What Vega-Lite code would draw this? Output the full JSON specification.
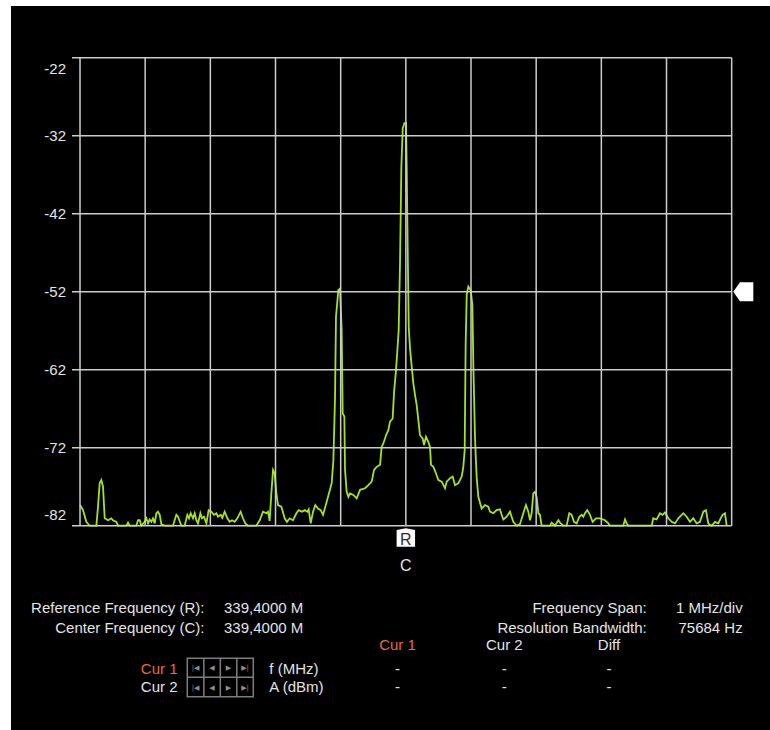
{
  "$schema": "https://vega.github.io/schema/vega-lite/v6.json",
  "width": 759,
  "height": 724,
  "autosize": {"type": "none"},
  "padding": {"left": 11, "top": 6, "right": 0, "bottom": 0},
  "background": "#ffffff",
  "config": {
    "view": {"fill": "#000000", "stroke": null},
    "text": {"font": "Liberation Sans"}
  },
  "datasets": {
    "levels": [{"a": -22}, {"a": -32}, {"a": -42}, {"a": -52}, {"a": -62}, {"a": -72}, {"a": -82}],
    "divisions": [{"f": 334.4}, {"f": 335.4}, {"f": 336.4}, {"f": 337.4}, {"f": 338.4}, {"f": 339.4}, {"f": 340.4}, {"f": 341.4}, {"f": 342.4}, {"f": 343.4}, {"f": 344.4}],
    "reference": [{"label": "R", "f": 339.4}],
    "centre": [{"label": "C", "f": 339.4}],
    "refLevel": [{"a": -52}],
    "spectrum": [
      {"f": 334.400, "a": -79.35}, {"f": 334.446, "a": -80.0}, {"f": 334.497, "a": -81.5}, {"f": 334.548, "a": -82}, {"f": 334.651, "a": -82},
      {"f": 334.676, "a": -79.55}, {"f": 334.702, "a": -76.55}, {"f": 334.727, "a": -76.15}, {"f": 334.753, "a": -77.0}, {"f": 334.779, "a": -81.05},
      {"f": 334.830, "a": -81.3}, {"f": 334.881, "a": -81.05}, {"f": 334.906, "a": -81.3}, {"f": 334.958, "a": -81.5}, {"f": 334.983, "a": -82},
      {"f": 335.111, "a": -82}, {"f": 335.137, "a": -81.6}, {"f": 335.162, "a": -82}, {"f": 335.264, "a": -82}, {"f": 335.290, "a": -81.3},
      {"f": 335.316, "a": -81.3}, {"f": 335.341, "a": -82}, {"f": 335.392, "a": -81.5}, {"f": 335.418, "a": -81.05}, {"f": 335.444, "a": -81.7},
      {"f": 335.469, "a": -81.2}, {"f": 335.495, "a": -81.5}, {"f": 335.520, "a": -81.05}, {"f": 335.546, "a": -81.7}, {"f": 335.572, "a": -80.4},
      {"f": 335.597, "a": -80.2}, {"f": 335.623, "a": -80.6}, {"f": 335.648, "a": -81.8}, {"f": 335.699, "a": -82}, {"f": 335.827, "a": -82},
      {"f": 335.878, "a": -80.6}, {"f": 335.904, "a": -80.85}, {"f": 335.955, "a": -82}, {"f": 336.006, "a": -82}, {"f": 336.047, "a": -80.6},
      {"f": 336.073, "a": -81.05}, {"f": 336.098, "a": -80.4}, {"f": 336.134, "a": -81.05}, {"f": 336.160, "a": -80.4}, {"f": 336.185, "a": -81.3},
      {"f": 336.211, "a": -81.7}, {"f": 336.247, "a": -80.4}, {"f": 336.272, "a": -81.05}, {"f": 336.303, "a": -80.85}, {"f": 336.339, "a": -81.7},
      {"f": 336.374, "a": -80.0}, {"f": 336.415, "a": -80.2}, {"f": 336.456, "a": -80.6}, {"f": 336.492, "a": -80.4}, {"f": 336.518, "a": -80.85},
      {"f": 336.559, "a": -80.6}, {"f": 336.584, "a": -81.0}, {"f": 336.620, "a": -80.2}, {"f": 336.661, "a": -81.05}, {"f": 336.697, "a": -81.5},
      {"f": 336.732, "a": -81.3}, {"f": 336.773, "a": -81.5}, {"f": 336.814, "a": -81.05}, {"f": 336.865, "a": -80.2}, {"f": 336.901, "a": -81.05},
      {"f": 336.937, "a": -81.7}, {"f": 336.978, "a": -82}, {"f": 337.106, "a": -82}, {"f": 337.157, "a": -81.3}, {"f": 337.208, "a": -80.2},
      {"f": 337.259, "a": -80.4}, {"f": 337.285, "a": -80.2}, {"f": 337.310, "a": -81.4}, {"f": 337.336, "a": -77.85}, {"f": 337.362, "a": -74.85},
      {"f": 337.387, "a": -75.3}, {"f": 337.413, "a": -77.85}, {"f": 337.438, "a": -79.35}, {"f": 337.489, "a": -79.55}, {"f": 337.541, "a": -81.05},
      {"f": 337.576, "a": -81.5}, {"f": 337.617, "a": -81.05}, {"f": 337.668, "a": -81.3}, {"f": 337.720, "a": -80.4}, {"f": 337.755, "a": -80.0},
      {"f": 337.806, "a": -80.2}, {"f": 337.848, "a": -80.0}, {"f": 337.888, "a": -80.2}, {"f": 337.909, "a": -79.9}, {"f": 337.940, "a": -81.7},
      {"f": 337.976, "a": -80.2}, {"f": 338.011, "a": -79.35}, {"f": 338.052, "a": -79.8}, {"f": 338.093, "a": -80.0}, {"f": 338.129, "a": -80.6},
      {"f": 338.180, "a": -79.1}, {"f": 338.262, "a": -76.55}, {"f": 338.288, "a": -73.6}, {"f": 338.313, "a": -65.65}, {"f": 338.328, "a": -55.2},
      {"f": 338.364, "a": -51.8}, {"f": 338.390, "a": -51.6}, {"f": 338.415, "a": -56.9}, {"f": 338.431, "a": -67.6}, {"f": 338.456, "a": -68.0},
      {"f": 338.467, "a": -74.85}, {"f": 338.492, "a": -77.65}, {"f": 338.518, "a": -78.3}, {"f": 338.543, "a": -77.85}, {"f": 338.594, "a": -78.05},
      {"f": 338.646, "a": -78.5}, {"f": 338.697, "a": -77.4}, {"f": 338.773, "a": -77.2}, {"f": 338.825, "a": -76.8}, {"f": 338.876, "a": -76.35},
      {"f": 338.912, "a": -74.85}, {"f": 338.952, "a": -74.45}, {"f": 339.004, "a": -74.2}, {"f": 339.029, "a": -71.9}, {"f": 339.055, "a": -71.45},
      {"f": 339.096, "a": -70.4}, {"f": 339.131, "a": -69.75}, {"f": 339.157, "a": -68.65}, {"f": 339.198, "a": -68.25}, {"f": 339.218, "a": -65.0},
      {"f": 339.249, "a": -62.05}, {"f": 339.270, "a": -59.5}, {"f": 339.290, "a": -56.9}, {"f": 339.311, "a": -48.15}, {"f": 339.331, "a": -36.0},
      {"f": 339.352, "a": -31.05}, {"f": 339.377, "a": -30.4}, {"f": 339.403, "a": -30.4}, {"f": 339.413, "a": -36.0}, {"f": 339.428, "a": -46.25},
      {"f": 339.444, "a": -56.5}, {"f": 339.464, "a": -59.25}, {"f": 339.490, "a": -61.6}, {"f": 339.515, "a": -63.75}, {"f": 339.541, "a": -65.25},
      {"f": 339.566, "a": -66.5}, {"f": 339.592, "a": -68.45}, {"f": 339.617, "a": -70.4}, {"f": 339.658, "a": -70.8}, {"f": 339.679, "a": -71.65},
      {"f": 339.709, "a": -70.6}, {"f": 339.745, "a": -71.25}, {"f": 339.771, "a": -71.9}, {"f": 339.786, "a": -74.2}, {"f": 339.822, "a": -74.45},
      {"f": 339.863, "a": -75.3}, {"f": 339.899, "a": -76.15}, {"f": 339.950, "a": -76.35}, {"f": 340.001, "a": -77.2}, {"f": 340.027, "a": -76.35},
      {"f": 340.078, "a": -75.9}, {"f": 340.119, "a": -75.7}, {"f": 340.154, "a": -76.8}, {"f": 340.206, "a": -76.55}, {"f": 340.257, "a": -75.7},
      {"f": 340.282, "a": -74.45}, {"f": 340.303, "a": -72.3}, {"f": 340.318, "a": -58.6}, {"f": 340.334, "a": -52.4}, {"f": 340.359, "a": -51.35},
      {"f": 340.395, "a": -51.8}, {"f": 340.421, "a": -53.7}, {"f": 340.436, "a": -61.6}, {"f": 340.461, "a": -70.6}, {"f": 340.475, "a": -73.6},
      {"f": 340.487, "a": -75.8}, {"f": 340.512, "a": -78.3}, {"f": 340.563, "a": -79.8}, {"f": 340.614, "a": -79.35}, {"f": 340.665, "a": -79.55},
      {"f": 340.691, "a": -80.2}, {"f": 340.742, "a": -80.4}, {"f": 340.793, "a": -80.0}, {"f": 340.844, "a": -79.9}, {"f": 340.870, "a": -80.6},
      {"f": 340.896, "a": -81.2}, {"f": 340.947, "a": -80.85}, {"f": 340.998, "a": -80.2}, {"f": 341.023, "a": -80.85}, {"f": 341.049, "a": -81.5},
      {"f": 341.100, "a": -82}, {"f": 341.151, "a": -81.8}, {"f": 341.202, "a": -80.4}, {"f": 341.243, "a": -79.35}, {"f": 341.279, "a": -80.2},
      {"f": 341.305, "a": -81.3}, {"f": 341.330, "a": -80.4}, {"f": 341.356, "a": -77.85}, {"f": 341.381, "a": -77.65}, {"f": 341.407, "a": -78.3},
      {"f": 341.433, "a": -80.4}, {"f": 341.458, "a": -80.6}, {"f": 341.484, "a": -82}, {"f": 341.612, "a": -82}, {"f": 341.637, "a": -81.6},
      {"f": 341.688, "a": -82}, {"f": 341.740, "a": -81.3}, {"f": 341.765, "a": -81.6}, {"f": 341.816, "a": -82}, {"f": 341.867, "a": -82},
      {"f": 341.908, "a": -80.4}, {"f": 341.944, "a": -80.6}, {"f": 341.980, "a": -81.5}, {"f": 342.021, "a": -81.7}, {"f": 342.062, "a": -80.85},
      {"f": 342.098, "a": -80.6}, {"f": 342.123, "a": -80.85}, {"f": 342.149, "a": -80.4}, {"f": 342.184, "a": -80.0}, {"f": 342.225, "a": -80.6},
      {"f": 342.266, "a": -81.5}, {"f": 342.317, "a": -81.05}, {"f": 342.379, "a": -81.05}, {"f": 342.456, "a": -81.3}, {"f": 342.507, "a": -81.7},
      {"f": 342.532, "a": -82}, {"f": 342.737, "a": -82}, {"f": 342.763, "a": -81.2}, {"f": 342.788, "a": -81.7}, {"f": 342.814, "a": -82},
      {"f": 343.172, "a": -82}, {"f": 343.197, "a": -81.05}, {"f": 343.248, "a": -81.2}, {"f": 343.300, "a": -80.4}, {"f": 343.340, "a": -80.6},
      {"f": 343.376, "a": -80.3}, {"f": 343.427, "a": -81.05}, {"f": 343.479, "a": -81.5}, {"f": 343.530, "a": -81.7}, {"f": 343.581, "a": -81.05},
      {"f": 343.658, "a": -80.4}, {"f": 343.709, "a": -80.85}, {"f": 343.760, "a": -81.5}, {"f": 343.811, "a": -81.05}, {"f": 343.862, "a": -81.7},
      {"f": 343.913, "a": -81.5}, {"f": 343.965, "a": -80.2}, {"f": 344.005, "a": -80.0}, {"f": 344.041, "a": -81.7}, {"f": 344.092, "a": -82},
      {"f": 344.144, "a": -81.5}, {"f": 344.195, "a": -81.7}, {"f": 344.231, "a": -81.05}, {"f": 344.261, "a": -80.6}, {"f": 344.297, "a": -80.4},
      {"f": 344.323, "a": -82}
    ]
  },
  "layer": [
    {
      "data": {"name": "spectrum"},
      "mark": {"type": "line", "color": "#a4e324", "strokeWidth": 1.8, "interpolate": "linear"},
      "encoding": {
        "x": {"field": "f", "type": "quantitative", "title": "Frequency (MHz)", "scale": {"domain": [333.341, 344.988], "nice": false, "zero": false}, "axis": null},
        "y": {"field": "a", "type": "quantitative", "title": "Amplitude (dBm)", "scale": {"domain": [-108.19, -15.37], "nice": false, "zero": false}, "axis": null}
      }
    },
    {
      "data": {"name": "levels"},
      "mark": {"type": "rule", "color": "#cccccc", "strokeWidth": 1.5},
      "encoding": {
        "y": {"field": "a", "type": "quantitative", "axis": null},
        "x": {"datum": 334.277, "type": "quantitative", "axis": null},
        "x2": {"datum": 344.4}
      }
    },
    {
      "data": {"name": "divisions"},
      "mark": {"type": "rule", "color": "#cccccc", "strokeWidth": 1.5},
      "encoding": {
        "x": {"field": "f", "type": "quantitative", "axis": null},
        "y": {"datum": -82, "type": "quantitative", "axis": null},
        "y2": {"datum": -22}
      }
    },
    {
      "data": {"name": "levels"},
      "transform": [{"filter": "datum.a < -22 && datum.a > -82"}],
      "mark": {"type": "text", "color": "#e4e4e4", "fontSize": 15, "align": "right", "baseline": "middle"},
      "encoding": {
        "x": {"datum": 334.185, "type": "quantitative", "axis": null},
        "y": {"field": "a", "type": "quantitative", "axis": null},
        "text": {"field": "a", "type": "nominal"}
      }
    },
    {
      "data": {"name": "levels"},
      "transform": [{"filter": "datum.a === -22"}],
      "mark": {"type": "text", "color": "#e4e4e4", "fontSize": 15, "align": "right", "baseline": "top", "dy": 4.5},
      "encoding": {
        "x": {"datum": 334.185, "type": "quantitative", "axis": null},
        "y": {"field": "a", "type": "quantitative", "axis": null},
        "text": {"field": "a", "type": "nominal"}
      }
    },
    {
      "data": {"name": "levels"},
      "transform": [{"filter": "datum.a === -82"}],
      "mark": {"type": "text", "color": "#e4e4e4", "fontSize": 15, "align": "right", "baseline": "bottom", "dy": -2.5},
      "encoding": {
        "x": {"datum": 334.185, "type": "quantitative", "axis": null},
        "y": {"field": "a", "type": "quantitative", "axis": null},
        "text": {"field": "a", "type": "nominal"}
      }
    },
    {
      "data": {"name": "reference"},
      "mark": {"type": "point", "shape": "M-1,-0.8L0,-1L1,-0.8L1,1L-1,1Z", "filled": true, "color": "#ffffff", "opacity": 1, "size": 340},
      "encoding": {
        "x": {"field": "f", "type": "quantitative", "axis": null},
        "y": {"datum": -83.5, "type": "quantitative", "axis": null}
      }
    },
    {
      "data": {"name": "reference"},
      "mark": {"type": "text", "color": "#2e2a3a", "fontSize": 16, "align": "center", "baseline": "middle"},
      "encoding": {
        "x": {"field": "f", "type": "quantitative", "axis": null},
        "y": {"datum": -83.8, "type": "quantitative", "axis": null},
        "text": {"field": "label"}
      }
    },
    {
      "data": {"name": "centre"},
      "mark": {"type": "text", "color": "#e4e4e4", "fontSize": 16, "align": "center", "baseline": "middle"},
      "encoding": {
        "x": {"field": "f", "type": "quantitative", "axis": null},
        "y": {"datum": -87.17, "type": "quantitative", "axis": null},
        "text": {"field": "label"}
      }
    },
    {
      "data": {"name": "refLevel"},
      "mark": {"type": "point", "shape": "M-1,0L-0.33,-0.95L1,-0.95L1,0.95L-0.33,0.95Z", "filled": true, "color": "#ffffff", "opacity": 1, "size": 400},
      "encoding": {
        "x": {"datum": 344.578, "type": "quantitative", "axis": null},
        "y": {"field": "a", "type": "quantitative", "axis": null}
      }
    },
    {
      "data": {"values": [{"t": "Reference Frequency (R):\nCenter Frequency (C):"}]},
      "mark": {"type": "text", "color": "#e4e4e4", "fontSize": 15, "align": "right", "baseline": "top", "lineBreak": "\n", "lineHeight": 20},
      "encoding": {"x": {"datum": 336.31, "type": "quantitative", "axis": null}, "y": {"datum": -91.65, "type": "quantitative", "axis": null}, "text": {"field": "t"}}
    },
    {
      "data": {"values": [{"t": "339,4000 M\n339,4000 M"}]},
      "mark": {"type": "text", "color": "#e4e4e4", "fontSize": 15, "align": "left", "baseline": "top", "lineBreak": "\n", "lineHeight": 20},
      "encoding": {"x": {"datum": 336.61, "type": "quantitative", "axis": null}, "y": {"datum": -91.65, "type": "quantitative", "axis": null}, "text": {"field": "t"}}
    },
    {
      "data": {"values": [{"t": "Frequency Span:\nResolution Bandwidth:"}]},
      "mark": {"type": "text", "color": "#e4e4e4", "fontSize": 15, "align": "right", "baseline": "top", "lineBreak": "\n", "lineHeight": 20},
      "encoding": {"x": {"datum": 343.096, "type": "quantitative", "axis": null}, "y": {"datum": -91.65, "type": "quantitative", "axis": null}, "text": {"field": "t"}}
    },
    {
      "data": {"values": [{"t": "1 MHz/div\n75684 Hz"}]},
      "mark": {"type": "text", "color": "#e4e4e4", "fontSize": 15, "align": "right", "baseline": "top", "lineBreak": "\n", "lineHeight": 20},
      "encoding": {"x": {"datum": 344.569, "type": "quantitative", "axis": null}, "y": {"datum": -91.65, "type": "quantitative", "axis": null}, "text": {"field": "t"}}
    },
    {
      "data": {"values": [{"t": "Cur 1"}]},
      "mark": {"type": "text", "color": "#e86a3a", "fontSize": 15, "align": "center", "baseline": "top"},
      "encoding": {"x": {"datum": 339.272, "type": "quantitative", "axis": null}, "y": {"datum": -96.4, "type": "quantitative", "axis": null}, "text": {"field": "t"}}
    },
    {
      "data": {"values": [{"t": "Cur 2"}]},
      "mark": {"type": "text", "color": "#e4e4e4", "fontSize": 15, "align": "center", "baseline": "top"},
      "encoding": {"x": {"datum": 340.911, "type": "quantitative", "axis": null}, "y": {"datum": -96.4, "type": "quantitative", "axis": null}, "text": {"field": "t"}}
    },
    {
      "data": {"values": [{"t": "Diff"}]},
      "mark": {"type": "text", "color": "#e4e4e4", "fontSize": 15, "align": "center", "baseline": "top"},
      "encoding": {"x": {"datum": 342.517, "type": "quantitative", "axis": null}, "y": {"datum": -96.4, "type": "quantitative", "axis": null}, "text": {"field": "t"}}
    },
    {
      "data": {"values": [{"t": "-\n-"}]},
      "mark": {"type": "text", "color": "#e4e4e4", "fontSize": 15, "align": "center", "baseline": "top", "lineBreak": "\n", "lineHeight": 18},
      "encoding": {"x": {"datum": 339.272, "type": "quantitative", "axis": null}, "y": {"datum": -99.47, "type": "quantitative", "axis": null}, "text": {"field": "t"}}
    },
    {
      "data": {"values": [{"t": "-\n-"}]},
      "mark": {"type": "text", "color": "#e4e4e4", "fontSize": 15, "align": "center", "baseline": "top", "lineBreak": "\n", "lineHeight": 18},
      "encoding": {"x": {"datum": 340.911, "type": "quantitative", "axis": null}, "y": {"datum": -99.47, "type": "quantitative", "axis": null}, "text": {"field": "t"}}
    },
    {
      "data": {"values": [{"t": "-\n-"}]},
      "mark": {"type": "text", "color": "#e4e4e4", "fontSize": 15, "align": "center", "baseline": "top", "lineBreak": "\n", "lineHeight": 18},
      "encoding": {"x": {"datum": 342.517, "type": "quantitative", "axis": null}, "y": {"datum": -99.47, "type": "quantitative", "axis": null}, "text": {"field": "t"}}
    },
    {
      "data": {"values": [{"t": "Cur 1"}]},
      "mark": {"type": "text", "color": "#e86a3a", "fontSize": 15, "align": "right", "baseline": "top"},
      "encoding": {"x": {"datum": 335.896, "type": "quantitative", "axis": null}, "y": {"datum": -99.47, "type": "quantitative", "axis": null}, "text": {"field": "t"}}
    },
    {
      "data": {"values": [{"t": "Cur 2"}]},
      "mark": {"type": "text", "color": "#e4e4e4", "fontSize": 15, "align": "right", "baseline": "top"},
      "encoding": {"x": {"datum": 335.896, "type": "quantitative", "axis": null}, "y": {"datum": -101.78, "type": "quantitative", "axis": null}, "text": {"field": "t"}}
    },
    {
      "data": {"values": [{"t": "f (MHz)\nA (dBm)"}]},
      "mark": {"type": "text", "color": "#e4e4e4", "fontSize": 15, "align": "left", "baseline": "top", "lineBreak": "\n", "lineHeight": 18},
      "encoding": {"x": {"datum": 337.305, "type": "quantitative", "axis": null}, "y": {"datum": -99.47, "type": "quantitative", "axis": null}, "text": {"field": "t"}}
    },
    {
      "data": {"values": [{"control": "cursor buttons"}]},
      "mark": {"type": "rect", "filled": false, "color": "#7d7d7d", "strokeWidth": 1.5},
      "encoding": {"x": {"datum": 336.046, "type": "quantitative", "axis": null}, "x2": {"datum": 337.059}, "y": {"datum": -99.0, "type": "quantitative", "axis": null}, "y2": {"datum": -103.92}}
    },
    {
      "data": {"values": [{"control": "row divider"}]},
      "mark": {"type": "rule", "color": "#7d7d7d", "strokeWidth": 1.5},
      "encoding": {"x": {"datum": 336.046, "type": "quantitative", "axis": null}, "x2": {"datum": 337.059}, "y": {"datum": -101.44, "type": "quantitative", "axis": null}}
    },
    {
      "data": {"values": [{"control": "divider"}]},
      "mark": {"type": "rule", "color": "#7d7d7d", "strokeWidth": 1.5},
      "encoding": {"x": {"datum": 336.3, "type": "quantitative", "axis": null}, "y": {"datum": -99.0, "type": "quantitative", "axis": null}, "y2": {"datum": -103.92}}
    },
    {
      "data": {"values": [{"control": "divider"}]},
      "mark": {"type": "rule", "color": "#7d7d7d", "strokeWidth": 1.5},
      "encoding": {"x": {"datum": 336.553, "type": "quantitative", "axis": null}, "y": {"datum": -99.0, "type": "quantitative", "axis": null}, "y2": {"datum": -103.92}}
    },
    {
      "data": {"values": [{"control": "divider"}]},
      "mark": {"type": "rule", "color": "#7d7d7d", "strokeWidth": 1.5},
      "encoding": {"x": {"datum": 336.806, "type": "quantitative", "axis": null}, "y": {"datum": -99.0, "type": "quantitative", "axis": null}, "y2": {"datum": -103.92}}
    },
    {
      "data": {"values": [{"t": "|◀\n|◀"}]},
      "mark": {"type": "text", "font": "DejaVu Sans", "color": "#8e8e8e", "fontSize": 7, "align": "center", "baseline": "top", "lineBreak": "\n", "lineHeight": 19.2},
      "encoding": {"x": {"datum": 336.173, "type": "quantitative", "axis": null}, "y": {"datum": -99.79, "type": "quantitative", "axis": null}, "text": {"field": "t"}}
    },
    {
      "data": {"values": [{"t": "◀\n◀"}]},
      "mark": {"type": "text", "font": "DejaVu Sans", "color": "#8e8e8e", "fontSize": 7, "align": "center", "baseline": "top", "lineBreak": "\n", "lineHeight": 19.2},
      "encoding": {"x": {"datum": 336.426, "type": "quantitative", "axis": null}, "y": {"datum": -99.79, "type": "quantitative", "axis": null}, "text": {"field": "t"}}
    },
    {
      "data": {"values": [{"t": "▶\n▶"}]},
      "mark": {"type": "text", "font": "DejaVu Sans", "color": "#8e8e8e", "fontSize": 7, "align": "center", "baseline": "top", "lineBreak": "\n", "lineHeight": 19.2},
      "encoding": {"x": {"datum": 336.679, "type": "quantitative", "axis": null}, "y": {"datum": -99.79, "type": "quantitative", "axis": null}, "text": {"field": "t"}}
    },
    {
      "data": {"values": [{"t": "▶|\n▶|"}]},
      "mark": {"type": "text", "font": "DejaVu Sans", "color": "#8e8e8e", "fontSize": 7, "align": "center", "baseline": "top", "lineBreak": "\n", "lineHeight": 19.2},
      "encoding": {"x": {"datum": 336.933, "type": "quantitative", "axis": null}, "y": {"datum": -99.79, "type": "quantitative", "axis": null}, "text": {"field": "t"}}
    }
  ]
}
